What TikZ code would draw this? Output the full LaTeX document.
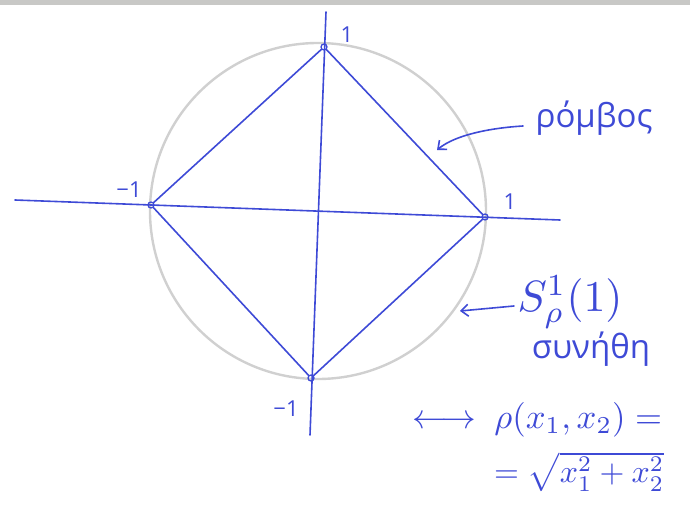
\documentclass[tikz,border=0pt]{standalone}
\usepackage{fontspec}
\setmainfont{Open Sans}
\usetikzlibrary{arrows.meta}
\definecolor{ink}{RGB}{62,74,214}
\definecolor{circ}{RGB}{208,208,208}
\definecolor{band}{RGB}{200,200,198}
\begin{document}
\begin{tikzpicture}[x=1pt,y=-1pt,
  inkline/.style={draw=ink,line width=1.6pt,line cap=round},
  vert/.style={circle,draw=ink,line width=1.3pt,inner sep=0pt,minimum size=6pt},
  lab/.style={text=ink,inner sep=0pt},
  handarrow/.style={inkline,-{Straight Barb[length=7pt,width=12pt,line width=1.6pt]}}]
\useasboundingbox (0,0) rectangle (690,510);
\fill[band] (0,0) rectangle (690,5);
% circle
\node[circle,draw=circ,line width=2.4pt,minimum size=336pt,inner sep=0pt] (C) at (318,211) {};
% axes
\coordinate (xl) at (15,200);
\coordinate (xr) at (560,220);
\coordinate (yt) at (326,12);
\coordinate (yb) at (310,435);
\draw[inkline] (xl) -- (xr);
\draw[inkline] (yt) -- (yb);
% vertices
\node[vert] (T) at (324,47) {};
\node[vert] (L) at (151,205) {};
\node[vert] (R) at (485,217) {};
\node[vert] (B) at (311,378) {};
\draw[inkline] (T) -- (R) -- (B) -- (L) -- (T);
% vertex labels
\node[lab,font=\fontsize{22}{26}\selectfont] (lT) at (347,35) {1};
\node[lab,font=\fontsize{22}{26}\selectfont] (lL) at (129,190) {−1};
\node[lab,font=\fontsize{22}{26}\selectfont] (lR) at (510,202) {1};
\node[lab,font=\fontsize{22}{26}\selectfont] (lB) at (286,409) {−1};
% rhombus label
\node[lab,font=\fontsize{33}{37}\selectfont] (rh) at (594,118) {ρόμβος};
\coordinate (rhs) at (523,126);
\coordinate (rhe) at (437,150);
\draw[handarrow] (rhs) .. controls (490,128) and (455,135) .. (rhe);
% S label
\node[lab] (S) at (570,302) {\resizebox{105pt}{!}{$S^{1}_{\rho}(1)$}};
\coordinate (Ss) at (514,306);
\coordinate (Se) at (460,311);
\draw[handarrow] (Ss) -- (Se);
\node[lab,font=\fontsize{33}{37}\selectfont] (syn) at (591,349) {συνήθη};
% formula
\node[lab,anchor=west] (f1) at (412,420) {\resizebox{250pt}{!}{$\longleftrightarrow\ \rho(x_1,x_2)=$}};
\node[lab,anchor=west] (f2) at (494,472) {\resizebox{170pt}{!}{$=\sqrt{x_1^2+x_2^2}$}};
\end{tikzpicture}
\end{document}
